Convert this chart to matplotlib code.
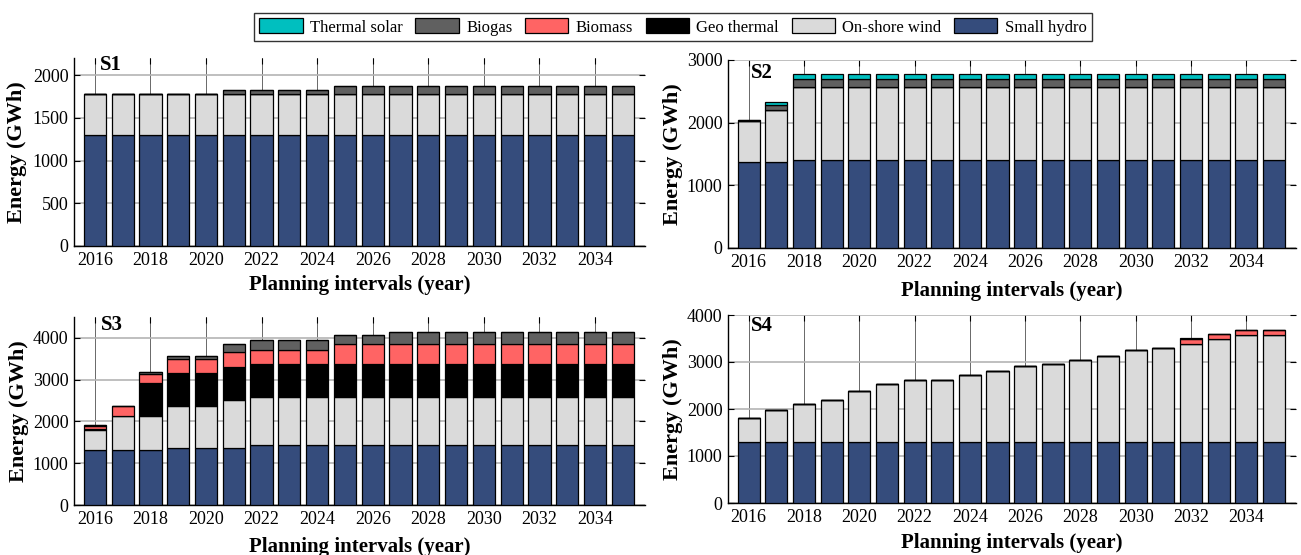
import matplotlib
matplotlib.use("Agg")
import matplotlib.pyplot as plt
from matplotlib.patches import Patch
import numpy as np

plt.rcParams['font.family'] = ['Liberation Serif', 'DejaVu Serif']

years = list(range(2016, 2036))
xtick_years = list(range(2016, 2035, 2))

series_names = ["Small hydro", "On-shore wind", "Geo thermal", "Biomass", "Biogas", "Thermal solar"]
colors = {"Small hydro": "#354C7C", "On-shore wind": "#DADADA", "Geo thermal": "#000000",
          "Biomass": "#FF6464", "Biogas": "#606060", "Thermal solar": "#00BFBF"}
legend_order = ["Thermal solar", "Biogas", "Biomass", "Geo thermal", "On-shore wind", "Small hydro"]

# ---- S1 ----
s1_hydro = [1295] * 20
s1_wind = [485] * 20
s1_geo = [0] * 20
s1_biomass = [0] * 20
s1_biogas = [0] * 5 + [45] * 4 + [90] * 11
s1_solar = [0] * 20

# ---- S2 ----
s2_hydro = [1380, 1380] + [1410] * 18
s2_wind = [645, 830] + [1165] * 18
s2_geo = [0] * 20
s2_biomass = [0] * 20
s2_biogas = [20, 75] + [120] * 18
s2_solar = [0, 40] + [85] * 18

# ---- S3 ----
s3_hydro = [1305, 1305, 1305, 1365, 1365, 1365] + [1435] * 14
s3_wind = [480, 820, 815, 1010, 1010, 1155] + [1145] * 3 + [1155] * 11
s3_geo = [25, 15, 805, 780, 780, 790] + [790] * 14
s3_biomass = [90, 240, 220, 350, 350, 355] + [350] * 3 + [475] * 11
s3_biogas = [25, 0, 45, 70, 70, 200] + [240] * 3 + [220] * 2 + [285] * 9
s3_solar = [0] * 20

# ---- S4 ----
s4_hydro = [1300] * 20
s4_wind = [500, 685, 815, 900, 1090, 1230, 1315, 1315, 1420, 1505,
           1625, 1655, 1735, 1820, 1955, 2005, 2090, 2195, 2280, 2280]
s4_geo = [0] * 20
s4_biomass = [0] * 16 + [110, 110, 110, 110]
s4_biogas = [0] * 20
s4_solar = [0] * 20

panels = [
    ("S1", [s1_hydro, s1_wind, s1_geo, s1_biomass, s1_biogas, s1_solar], 2200, [0, 500, 1000, 1500, 2000]),
    ("S2", [s2_hydro, s2_wind, s2_geo, s2_biomass, s2_biogas, s2_solar], 3000, [0, 1000, 2000, 3000]),
    ("S3", [s3_hydro, s3_wind, s3_geo, s3_biomass, s3_biogas, s3_solar], 4500, [0, 1000, 2000, 3000, 4000]),
    ("S4", [s4_hydro, s4_wind, s4_geo, s4_biomass, s4_biogas, s4_solar], 4000, [0, 1000, 2000, 3000, 4000]),
]

W, H = 1301, 555
fig = plt.figure(figsize=(W / 100, H / 100), dpi=100)

# axes rectangles in pixels: left, right, top, bottom
rects = [(74, 645, 58, 246), (728, 1296, 60, 248), (74, 645, 317, 505), (728, 1296, 315, 503)]
ylab_x = [-0.082, -0.079, -0.078, -0.080]
xlab_y = [-0.155, -0.178, -0.168, -0.16]
lab_pos = [(0.045, 0.963), (0.040, 0.93), (0.048, 0.957), (0.040, 0.94)]

for (name, data, ymax, yticks), (l, r, t, b), ylx, xly, lp in zip(panels, rects, ylab_x, xlab_y, lab_pos):
    ax = fig.add_axes([l / W, 1 - b / H, (r - l) / W, (b - t) / H])
    bottom = np.zeros(len(years))
    for sname, vals in zip(series_names, data):
        vals = np.array(vals, dtype=float)
        ax.bar(years, vals, width=0.8, bottom=bottom, color=colors[sname],
               edgecolor='black', linewidth=0.9, zorder=3)
        bottom = bottom + vals
    ax.set_xlim(2015.25, 2035.8)
    ax.set_ylim(0, ymax)
    ax.set_yticks(yticks)
    ax.set_xticks(xtick_years)
    ax.tick_params(axis='both', direction='in', labelsize=13, length=4, width=0.8,
                   top=True, right=True, pad=4)
    ax.yaxis.grid(True, color='#B4B4B4', linewidth=1.2, zorder=0)
    ax.xaxis.grid(True, color='#505050', linewidth=0.6, zorder=0)
    ax.set_axisbelow(True)
    ax.spines['top'].set_visible(False)
    ax.spines['right'].set_visible(False)
    ax.spines['left'].set_linewidth(1.0)
    ax.spines['bottom'].set_linewidth(1.0)
    ax.set_ylabel("Energy (GWh)", fontsize=16, fontweight='bold')
    ax.yaxis.set_label_coords(ylx, 0.5)
    ax.set_xlabel("Planning intervals (year)", fontsize=15, fontweight='bold')
    ax.xaxis.set_label_coords(0.5, xly)
    ax.text(lp[0], lp[1], name, transform=ax.transAxes, fontsize=15, fontweight='bold',
            ha='left', va='center', zorder=5)

handles = [Patch(facecolor=colors[n], edgecolor='black', linewidth=0.9, label=n) for n in legend_order]
leg = fig.legend(handles=handles, loc='center', bbox_to_anchor=(673 / W, 1 - 27 / H), ncol=6,
                 fontsize=12, frameon=True, fancybox=False, edgecolor='black',
                 handlelength=2.6, handleheight=1.0, handletextpad=0.45, columnspacing=0.75,
                 borderpad=0.3, borderaxespad=0)
leg.get_frame().set_linewidth(1.0)

fig.savefig("out.png", dpi=100)
